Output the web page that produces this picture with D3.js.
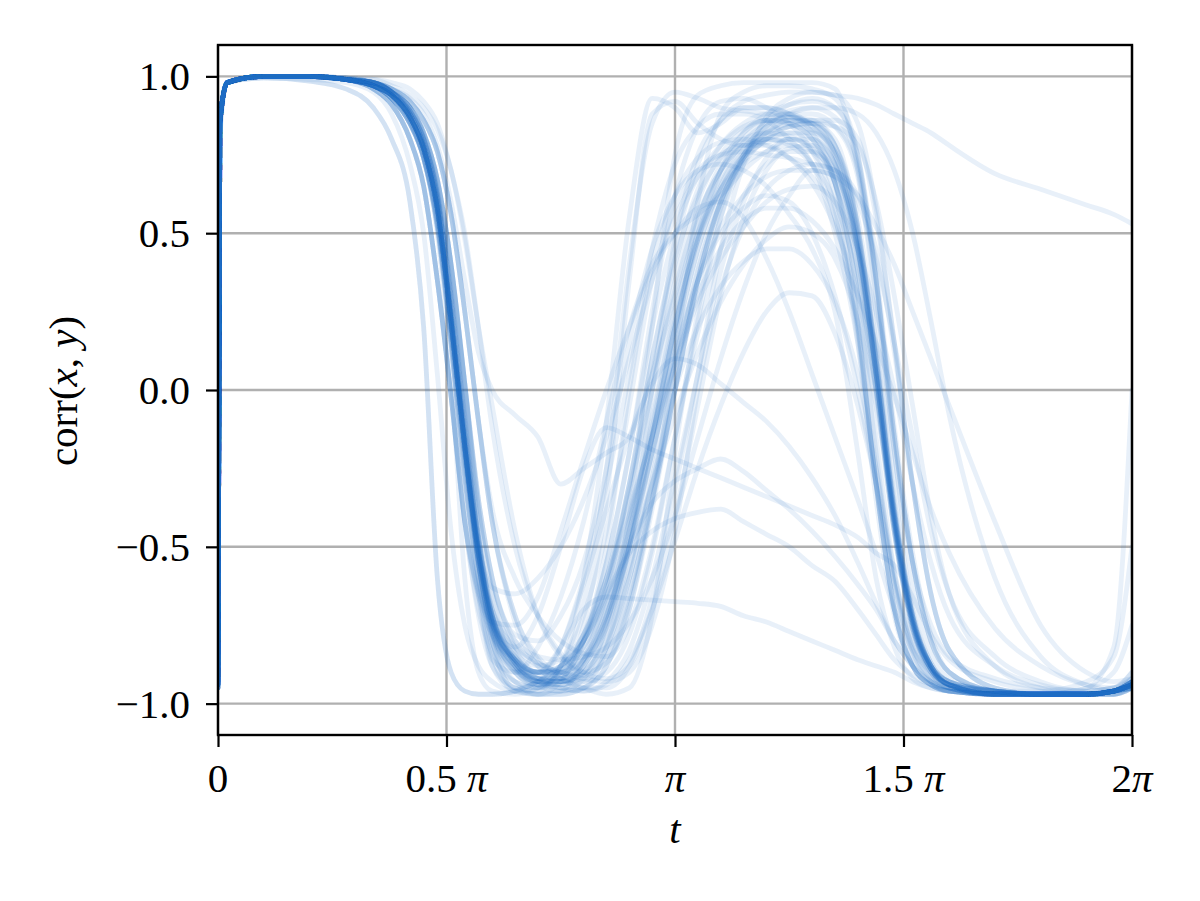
<!DOCTYPE html>
<html><head><meta charset="utf-8">
<script src="https://cdn.jsdelivr.net/npm/d3@7"></script>
<style>body{margin:0;background:#fff} svg{display:block} text{font-family:"Liberation Serif","DejaVu Serif",serif}</style>
</head><body>
<svg id="chart" width="1200" height="901"></svg>
<script>
// sample times, in units of pi
const tGrid = [0,0.004,0.02,0.1,0.2,0.28,0.34,0.38,0.42,0.45,0.48,0.51,0.54,0.57,0.6,0.65,0.7,0.75,0.8,0.85,0.9,0.95,1.0,1.05,1.1,1.15,1.2,1.25,1.3,1.35,1.4,1.44,1.48,1.52,1.56,1.6,1.7,1.8,1.9,1.96,2.0];

const s01 = [-0.94,0.85,0.98,1.0,1.0,0.99, 0.97,0.94,0.87,0.77,0.58,0.22,-0.18,-0.52,-0.72,-0.86,-0.92,-0.93, -0.9,-0.78,-0.5,-0.15,0.2,0.48,0.66,0.77,0.84,0.87, 0.86,0.78,0.5,0.05,-0.42,-0.74,-0.88,-0.93,-0.96,-0.97,-0.97,-0.96,-0.94];
const s02 = [-0.95,0.85,0.98,1.0,1.0,0.99, 0.97,0.93,0.85,0.74,0.52,0.15,-0.28,-0.6,-0.8,-0.93,-0.97,-0.96, -0.86,-0.65,-0.3,0.1,0.42,0.62,0.74,0.8,0.82,0.81, 0.76,0.62,0.2,-0.3,-0.7,-0.88,-0.94,-0.96,-0.97,-0.97,-0.97,-0.96,-0.95];
const s03 = [-0.93,0.85,0.98,1.0,1.0,0.99, 0.98,0.95,0.9,0.82,0.67,0.4,0.02,-0.35,-0.6,-0.8,-0.87,-0.9, -0.91,-0.85,-0.65,-0.35,0.0,0.33,0.58,0.74,0.84,0.89, 0.9,0.87,0.72,0.35,-0.15,-0.55,-0.8,-0.9,-0.96,-0.97,-0.97,-0.96,-0.93];
const s04 = [-0.94,0.85,0.98,1.0,1.0,0.99, 0.96,0.91,0.8,0.65,0.35,-0.02,-0.42,-0.7,-0.84,-0.93,-0.95,-0.92, -0.8,-0.5,0.0,0.4,0.62,0.74,0.79,0.8,0.78,0.74, 0.68,0.55,0.2,-0.3,-0.7,-0.88,-0.94,-0.96,-0.97,-0.97,-0.97,-0.96,-0.94];
const s05 = [-0.95,0.85,0.98,1.0,1.0,0.995, 0.98,0.96,0.92,0.86,0.76,0.56,0.25,-0.1,-0.42,-0.72,-0.85,-0.91, -0.93,-0.9,-0.78,-0.52,-0.15,0.22,0.55,0.75,0.86,0.91, 0.93,0.9,0.74,0.36,-0.15,-0.55,-0.8,-0.9,-0.96,-0.97,-0.97,-0.97,-0.95];
const s06 = [-0.93,0.85,0.98,1.0,1.0,0.99, 0.97,0.94,0.87,0.77,0.58,0.22,-0.18,-0.52,-0.72,-0.84,-0.88,-0.86, -0.78,-0.6,-0.32,0.0,0.32,0.56,0.7,0.78,0.82,0.84, 0.83,0.76,0.48,0.05,-0.42,-0.74,-0.88,-0.93,-0.96,-0.97,-0.97,-0.96,-0.93];
const s07 = [-0.95,0.84,0.98,0.995,0.99,0.98, 0.95,0.88,0.72,0.5,0.05,-0.45,-0.75,-0.88,-0.93,-0.96,-0.95,-0.9, -0.78,-0.55,-0.2,0.2,0.5,0.68,0.78,0.84,0.86,0.85, 0.8,0.66,0.3,-0.2,-0.62,-0.85,-0.93,-0.96,-0.97,-0.97,-0.97,-0.96,-0.95];
const s08 = [-0.94,0.84,0.98,0.995,0.985,0.96, 0.9,0.8,0.6,0.2,-0.6,-0.9,-0.96,-0.97,-0.97,-0.96,-0.93,-0.88, -0.8,-0.66,-0.42,-0.12,0.22,0.48,0.64,0.74,0.79,0.8, 0.77,0.66,0.38,-0.02,-0.46,-0.76,-0.9,-0.95,-0.97,-0.97,-0.97,-0.96,-0.94];
const s09 = [-0.94,0.85,0.98,1.0,1.0,0.99, 0.96,0.91,0.8,0.65,0.35,-0.02,-0.42,-0.66,-0.78,-0.86,-0.9,-0.9, -0.86,-0.76,-0.56,-0.3,0.0,0.2,0.33,0.41,0.45,0.45, 0.4,0.28,0.05,-0.25,-0.58,-0.8,-0.91,-0.95,-0.97,-0.97,-0.97,-0.96,-0.94];
const s10 = [-0.93,0.85,0.98,1.0,1.0,0.99, 0.97,0.94,0.87,0.77,0.58,0.22,-0.18,-0.52,-0.75,-0.88,-0.93,-0.95, -0.96,-0.94,-0.86,-0.7,-0.48,-0.25,-0.05,0.12,0.25,0.31, 0.3,0.18,-0.05,-0.3,-0.6,-0.8,-0.9,-0.94,-0.97,-0.97,-0.97,-0.96,-0.93];
const s11 = [-0.93,0.85,0.98,1.0,1.0,0.99, 0.98,0.95,0.9,0.82,0.67,0.4,0.02,-0.35,-0.6,-0.82,-0.9,-0.88, -0.8,-0.64,-0.4,-0.14,0.12,0.35,0.5,0.58,0.62,0.6, 0.5,0.3,0.0,-0.3,-0.62,-0.82,-0.92,-0.95,-0.97,-0.97,-0.97,-0.96,-0.93];
const s12 = [-0.94,0.85,0.98,1.0,1.0,0.99, 0.97,0.93,0.85,0.74,0.52,0.15,-0.28,-0.6,-0.82,-0.95,-0.96,-0.88, -0.68,-0.25,0.4,0.85,0.95,0.93,0.9,0.89,0.88,0.87, 0.85,0.78,0.55,0.15,-0.35,-0.72,-0.88,-0.94,-0.97,-0.97,-0.97,-0.96,-0.94];
const s13 = [-0.94,0.85,0.98,1.0,1.0,0.99, 0.97,0.94,0.87,0.77,0.58,0.22,-0.18,-0.55,-0.8,-0.93,-0.95,-0.88, -0.6,-0.1,0.55,0.93,0.9,0.82,0.85,0.9,0.9,0.88, 0.84,0.75,0.5,0.12,-0.38,-0.72,-0.88,-0.94,-0.97,-0.97,-0.97,-0.96,-0.94];
const s14 = [0.5,0.9,0.98,1.0,1.0,0.99, 0.98,0.95,0.88,0.78,0.6,0.28,-0.12,-0.48,-0.7,-0.85,-0.9,-0.9, -0.82,-0.62,-0.3,0.1,0.45,0.72,0.86,0.92,0.94,0.95, 0.95,0.94,0.93,0.91,0.88,0.85,0.82,0.78,0.69,0.64,0.59,0.56,0.53];
const s15 = [-0.94,0.85,0.98,1.0,1.0,0.99, 0.97,0.94,0.87,0.77,0.58,0.22,-0.18,-0.55,-0.78,-0.9,-0.9,-0.82, -0.7,-0.66,-0.665,-0.67,-0.675,-0.68, -0.69,-0.72,-0.74,-0.77, -0.8,-0.83,-0.86,-0.88,-0.9,-0.93,-0.95,-0.96,-0.97,-0.97,-0.97,-0.96,-0.94];
const s16 = [-0.94,0.85,0.98,1.0,1.0,0.99, 0.97,0.94,0.87,0.77,0.58,0.22,-0.18,-0.55,-0.78,-0.9,-0.94,-0.9, -0.8,-0.65,-0.52,-0.45,-0.41,-0.39,-0.38,-0.42,-0.46,-0.5, -0.56,-0.61,-0.7,-0.78,-0.86,-0.91,-0.94,-0.95,-0.97,-0.97,-0.97,-0.96,-0.94];
const s17 = [-0.93,0.85,0.98,1.0,1.0,0.99, 0.98,0.95,0.88,0.78,0.6,0.25,-0.15,-0.52,-0.75,-0.88,-0.93,-0.92, -0.84,-0.68,-0.5,-0.36,-0.29,-0.25,-0.22,-0.26,-0.32,-0.38, -0.45,-0.53,-0.62,-0.7,-0.8,-0.88,-0.93,-0.95,-0.97,-0.97,-0.97,-0.96,-0.93];
const s18 = [-0.93,0.85,0.98,1.0,1.0,0.99, 0.97,0.94,0.87,0.77,0.58,0.22,-0.18,-0.55,-0.75,-0.82,-0.72,-0.5, -0.25,-0.12,-0.15,-0.19,-0.22,-0.25,-0.28,-0.31,-0.34,-0.37, -0.4,-0.43,-0.47,-0.52,-0.56,-0.66,-0.78,-0.86,-0.93,-0.96,-0.97,-0.96,-0.93];
const s19 = [-0.93,0.85,0.98,1.0,1.0,0.99, 0.98,0.96,0.93,0.88,0.78,0.6,0.35,0.12,0.0,-0.08,-0.15,-0.3, -0.25,-0.2,-0.15,0.05,0.3,0.55,0.7,0.78,0.8,0.78, 0.72,0.6,0.35,0.0,-0.45,-0.75,-0.89,-0.94,-0.97,-0.97,-0.97,-0.96,-0.93];
const s20 = [-0.95,0.85,0.98,1.0,1.0,0.99, 0.98,0.95,0.89,0.8,0.63,0.3,-0.1,-0.47,-0.72,-0.87,-0.93,-0.95, -0.93,-0.85,-0.65,-0.35,0.0,0.35,0.6,0.75,0.84,0.88, 0.9,0.9,0.88,0.82,0.7,0.5,0.22,-0.08,-0.6,-0.85,-0.94,-0.96,-0.95];
const s21 = [-0.93,0.85,0.98,1.0,1.0,0.99, 0.98,0.95,0.88,0.78,0.6,0.26,-0.14,-0.5,-0.73,-0.86,-0.92,-0.93, -0.9,-0.8,-0.6,-0.3,0.05,0.38,0.6,0.73,0.8,0.84, 0.85,0.84,0.78,0.6,0.3,-0.05,-0.4,-0.65,-0.88,-0.95,-0.97,-0.96,-0.93];
const s22 = [-0.9,0.85,0.98,1.0,1.0,0.99, 0.97,0.94,0.87,0.76,0.56,0.2,-0.2,-0.55,-0.77,-0.9,-0.94,-0.94, -0.88,-0.72,-0.48,-0.2,0.08,0.3,0.45,0.54,0.58,0.58, 0.54,0.45,0.3,0.15,-0.02,-0.2,-0.38,-0.52,-0.76,-0.88,-0.94,-0.95,-0.9];
const s23 = [0.0,0.8,0.98,1.0,1.0,0.995, 0.98,0.96,0.92,0.86,0.76,0.56,0.25,-0.1,-0.42,-0.74,-0.88,-0.93, -0.92,-0.82,-0.6,-0.28,0.08,0.4,0.62,0.75,0.82,0.86, 0.85,0.78,0.52,0.1,-0.4,-0.73,-0.88,-0.94,-0.96,-0.97,-0.95,-0.82,0.0];
const s24 = [-0.5,0.82,0.98,1.0,1.0,0.99, 0.97,0.94,0.86,0.74,0.54,0.18,-0.22,-0.56,-0.77,-0.89,-0.93,-0.93, -0.87,-0.72,-0.48,-0.15,0.2,0.5,0.68,0.79,0.85,0.87, 0.85,0.75,0.45,0.05,-0.43,-0.75,-0.89,-0.94,-0.96,-0.96,-0.93,-0.85,-0.5];
const s25 = [-0.95,0.85,0.98,1.0,1.0,0.99, 0.98,0.95,0.89,0.8,0.62,0.28,-0.12,-0.5,-0.75,-0.9,-0.95,-0.96, -0.92,-0.75,-0.4,0.2,0.75,0.94,0.97,0.98,0.98,0.98, 0.98,0.96,0.7,0.25,-0.3,-0.7,-0.87,-0.93,-0.96,-0.97,-0.97,-0.97,-0.95];
const s26 = [-0.94,0.85,0.98,1.0,1.0,0.99, 0.98,0.96,0.9,0.81,0.64,0.32,-0.08,-0.46,-0.72,-0.87,-0.94,-0.96, -0.95,-0.88,-0.7,-0.35,0.1,0.6,0.88,0.95,0.97,0.97, 0.96,0.93,0.75,0.35,-0.2,-0.62,-0.84,-0.92,-0.96,-0.97,-0.97,-0.97,-0.94];
const s27 = [-0.95,0.85,0.98,0.995,0.985,0.96, 0.9,0.8,0.6,0.2,-0.6,-0.9,-0.96,-0.97,-0.97,-0.96,-0.93,-0.88, -0.8,-0.62,-0.35,0.0,0.35,0.6,0.75,0.83,0.86,0.85, 0.8,0.66,0.38,0.0,-0.45,-0.76,-0.9,-0.95,-0.97,-0.97,-0.97,-0.96,-0.95];
const s28 = [-0.93,0.85,0.98,1.0,1.0,0.99, 0.99,0.98,0.96,0.92,0.85,0.7,0.5,0.2,-0.12,-0.5,-0.72,-0.84, -0.9,-0.92,-0.88,-0.7,-0.4,-0.05,0.3,0.55,0.7,0.77, 0.78,0.7,0.45,0.08,-0.4,-0.72,-0.88,-0.94,-0.96,-0.97,-0.97,-0.96,-0.93];
const s29 = [-0.95,0.85,0.98,1.0,1.0,0.99, 0.96,0.91,0.8,0.65,0.35,-0.02,-0.42,-0.72,-0.88,-0.95,-0.97,-0.97, -0.95,-0.88,-0.68,-0.36,0.0,0.35,0.6,0.74,0.82,0.86, 0.86,0.84,0.7,0.35,-0.15,-0.55,-0.8,-0.9,-0.96,-0.97,-0.97,-0.97,-0.95];
const s30 = [-0.92,0.85,0.98,1.0,1.0,0.99, 0.97,0.93,0.85,0.74,0.53,0.18,-0.22,-0.5,-0.63,-0.65,-0.6,-0.5, -0.35,-0.15,0.1,0.35,0.55,0.68,0.75,0.78,0.78,0.74, 0.66,0.52,0.3,0.0,-0.42,-0.74,-0.89,-0.94,-0.97,-0.97,-0.97,-0.96,-0.92];
const s31 = [-0.94,0.85,0.98,1.0,1.0,0.99, 0.98,0.95,0.89,0.8,0.62,0.28,-0.12,-0.48,-0.7,-0.8,-0.85,-0.86, -0.85,-0.82,-0.74,-0.6,-0.4,-0.15,0.1,0.32,0.5,0.62, 0.7,0.68,0.45,0.1,-0.38,-0.72,-0.88,-0.94,-0.97,-0.97,-0.97,-0.96,-0.94];
const s32 = [-0.94,0.85,0.98,1.0,1.0,0.995, 0.98,0.96,0.92,0.86,0.76,0.56,0.25,-0.1,-0.38,-0.6,-0.72,-0.8, -0.84,-0.85,-0.75,-0.5,-0.15,0.18,0.45,0.62,0.72,0.76, 0.76,0.7,0.45,0.05,-0.42,-0.74,-0.88,-0.93,-0.96,-0.97,-0.97,-0.96,-0.94];
const s33 = [-0.95,0.85,0.98,1.0,1.0,0.99, 0.97,0.94,0.87,0.77,0.58,0.22,-0.18,-0.52,-0.74,-0.86,-0.9,-0.89, -0.82,-0.68,-0.45,-0.15,0.18,0.48,0.7,0.82,0.88,0.91, 0.92,0.9,0.75,0.38,-0.12,-0.52,-0.78,-0.9,-0.96,-0.97,-0.97,-0.97,-0.95];
const s34 = [-0.93,0.85,0.98,1.0,1.0,0.99, 0.97,0.94,0.86,0.75,0.55,0.2,-0.2,-0.55,-0.77,-0.89,-0.93,-0.93, -0.88,-0.74,-0.5,-0.2,0.15,0.45,0.65,0.76,0.8,0.79, 0.72,0.5,0.15,-0.25,-0.62,-0.84,-0.93,-0.96,-0.97,-0.97,-0.97,-0.96,-0.93];
const s35 = [-0.94,0.85,0.98,1.0,1.0,0.99, 0.98,0.95,0.88,0.78,0.6,0.25,-0.15,-0.5,-0.72,-0.85,-0.9,-0.9, -0.85,-0.72,-0.52,-0.3,-0.08,0.12,0.28,0.4,0.48,0.52, 0.5,0.42,0.22,-0.05,-0.4,-0.7,-0.87,-0.93,-0.97,-0.97,-0.97,-0.96,-0.94];
const s36 = [-0.9,0.85,0.98,1.0,1.0,0.99, 0.97,0.94,0.87,0.77,0.58,0.23,-0.17,-0.52,-0.74,-0.86,-0.9,-0.88, -0.78,-0.6,-0.38,-0.15,0.08,0.28,0.42,0.52,0.6,0.64, 0.65,0.6,0.45,0.25,0.0,-0.3,-0.55,-0.72,-0.88,-0.94,-0.96,-0.95,-0.9];
const s37 = [-0.75,0.84,0.98,1.0,1.0,0.99, 0.98,0.95,0.88,0.78,0.6,0.26,-0.14,-0.5,-0.73,-0.87,-0.92,-0.92, -0.86,-0.7,-0.42,-0.08,0.26,0.54,0.72,0.82,0.86,0.86, 0.82,0.72,0.44,0.05,-0.44,-0.75,-0.89,-0.94,-0.96,-0.97,-0.95,-0.9,-0.75];
const s38 = [-0.94,0.85,0.98,1.0,1.0,0.99, 0.97,0.93,0.85,0.74,0.54,0.18,-0.25,-0.62,-0.85,-0.96,-0.97,-0.93, -0.75,-0.35,0.35,0.88,0.92,0.85,0.8,0.78,0.8,0.82, 0.8,0.72,0.48,0.1,-0.4,-0.73,-0.88,-0.94,-0.97,-0.97,-0.97,-0.96,-0.94];
const s39 = [-0.95,0.85,0.98,1.0,1.0,0.99, 0.98,0.95,0.89,0.8,0.62,0.28,-0.12,-0.48,-0.72,-0.86,-0.92,-0.95, -0.96,-0.93,-0.83,-0.6,-0.28,0.05,0.38,0.6,0.74,0.8, 0.8,0.72,0.46,0.05,-0.43,-0.75,-0.89,-0.94,-0.97,-0.97,-0.97,-0.96,-0.95];
const s40 = [-0.94,0.85,0.98,1.0,1.0,0.99, 0.97,0.94,0.87,0.77,0.57,0.22,-0.18,-0.54,-0.76,-0.88,-0.92,-0.9, -0.8,-0.6,-0.3,0.05,0.4,0.64,0.78,0.85,0.88,0.88, 0.84,0.74,0.46,0.06,-0.42,-0.74,-0.89,-0.94,-0.97,-0.97,-0.97,-0.96,-0.94];
const s41 = [-0.94,0.86,0.98,1.0,1.0,0.995, 0.99,0.97,0.94,0.9,0.83,0.7,0.48,0.2,-0.05,-0.45,-0.72,-0.85, -0.9,-0.87,-0.7,-0.38,0.0,0.35,0.6,0.74,0.82,0.85, 0.86,0.86,0.8,0.55,0.15,-0.3,-0.65,-0.83,-0.95,-0.97,-0.97,-0.96,-0.94];
const s42 = [-0.95,0.85,0.98,1.0,1.0,0.99, 0.97,0.93,0.85,0.74,0.52,0.15,-0.28,-0.65,-0.88,-0.96,-0.97,-0.97, -0.95,-0.82,-0.5,0.0,0.48,0.75,0.86,0.9,0.9,0.88, 0.82,0.66,0.22,-0.3,-0.7,-0.88,-0.94,-0.96,-0.97,-0.97,-0.97,-0.96,-0.95];
const s43 = [-0.93,0.85,0.98,1.0,1.0,0.99, 0.98,0.95,0.9,0.82,0.67,0.4,0.02,-0.35,-0.6,-0.78,-0.8,-0.72, -0.55,-0.25,0.15,0.45,0.62,0.7,0.72,0.7,0.65,0.56, 0.45,0.25,-0.2,-0.6,-0.82,-0.92,-0.95,-0.96,-0.97,-0.97,-0.97,-0.96,-0.93];
const s44 = [-0.94,0.85,0.98,1.0,1.0,0.99, 0.96,0.91,0.8,0.65,0.35,-0.02,-0.42,-0.64,-0.74,-0.82,-0.87,-0.9, -0.92,-0.93,-0.9,-0.75,-0.45,0.0,0.32,0.52,0.64,0.7, 0.72,0.7,0.62,0.45,0.12,-0.3,-0.65,-0.83,-0.95,-0.97,-0.97,-0.96,-0.94];
const s45 = [-0.92,0.85,0.98,1.0,1.0,0.99, 0.97,0.94,0.87,0.77,0.58,0.22,-0.18,-0.52,-0.72,-0.87,-0.93,-0.94, -0.9,-0.76,-0.5,-0.15,0.2,0.5,0.7,0.8,0.86,0.88, 0.88,0.84,0.68,0.3,-0.2,-0.55,-0.75,-0.85,-0.92,-0.95,-0.96,-0.95,-0.92];
const s46 = [-0.94,0.85,0.98,1.0,1.0,0.99, 0.98,0.95,0.9,0.82,0.67,0.4,0.02,-0.38,-0.64,-0.84,-0.91,-0.92, -0.86,-0.72,-0.45,-0.1,0.25,0.5,0.64,0.72,0.76,0.78, 0.76,0.68,0.42,0.02,-0.45,-0.76,-0.89,-0.94,-0.97,-0.97,-0.97,-0.96,-0.94];
const s47 = [-0.94,0.85,0.98,1.0,1.0,0.99, 0.97,0.93,0.85,0.74,0.52,0.15,-0.28,-0.62,-0.86,-0.9,-0.82,-0.66, -0.42,-0.1,0.2,0.4,0.5,0.56,0.62,0.7,0.76,0.8, 0.78,0.66,0.3,-0.15,-0.58,-0.83,-0.92,-0.95,-0.97,-0.97,-0.97,-0.96,-0.94];
const s48 = [-0.95,0.85,0.98,1.0,1.0,0.995, 0.98,0.96,0.92,0.86,0.76,0.56,0.25,-0.1,-0.42,-0.72,-0.86,-0.92, -0.95,-0.95,-0.88,-0.66,-0.32,0.05,0.45,0.72,0.87,0.93, 0.95,0.94,0.85,0.58,0.15,-0.3,-0.65,-0.83,-0.95,-0.97,-0.97,-0.97,-0.95];
const s49 = [-0.94,0.85,0.98,1.0,1.0,0.99, 0.96,0.91,0.8,0.65,0.35,-0.02,-0.42,-0.65,-0.74,-0.75,-0.66,-0.45, -0.22,0.0,0.2,0.38,0.5,0.58,0.6,0.55,0.42,0.25, 0.05,-0.15,-0.35,-0.52,-0.7,-0.83,-0.9,-0.94,-0.97,-0.97,-0.97,-0.96,-0.94];
const s50 = [-0.94,0.85,0.98,1.0,1.0,0.99, 0.97,0.94,0.87,0.77,0.58,0.22,-0.18,-0.52,-0.74,-0.86,-0.9,-0.82, -0.62,-0.38,-0.15,0.02,0.1,0.08,0.02,-0.04,-0.1,-0.18, -0.28,-0.4,-0.55,-0.68,-0.8,-0.88,-0.93,-0.95,-0.97,-0.97,-0.97,-0.96,-0.94];
const s51 = [-0.94,0.85,0.98,1.0,1.0,0.99, 0.98,0.95,0.9,0.82,0.67,0.4,0.02,-0.38,-0.65,-0.88,-0.94,-0.92, -0.8,-0.55,-0.2,0.25,0.62,0.84,0.92,0.93,0.9,0.85, 0.76,0.58,0.15,-0.35,-0.72,-0.88,-0.94,-0.96,-0.97,-0.97,-0.97,-0.96,-0.94];
const s52 = [-0.95,0.85,0.98,1.0,1.0,0.99, 0.97,0.94,0.87,0.77,0.58,0.22,-0.18,-0.52,-0.74,-0.88,-0.93,-0.94, -0.91,-0.82,-0.58,-0.22,0.15,0.45,0.64,0.75,0.8,0.82, 0.82,0.76,0.52,0.1,-0.38,-0.72,-0.88,-0.93,-0.96,-0.97,-0.97,-0.96,-0.95];
const s53 = [-0.95,0.85,0.98,1.0,1.0,0.99, 0.97,0.93,0.85,0.74,0.5,0.05,-0.6,-0.9,-0.96,-0.97,-0.95,-0.88, -0.72,-0.45,-0.05,0.35,0.58,0.7,0.75,0.76,0.75,0.74, 0.72,0.7,0.6,0.42,0.15,-0.15,-0.45,-0.65,-0.85,-0.93,-0.96,-0.95,-0.93];
const s54 = [-0.94,0.85,0.98,1.0,1.0,0.99, 0.98,0.95,0.89,0.8,0.62,0.28,-0.12,-0.48,-0.7,-0.82,-0.88,-0.92, -0.95,-0.97,-0.95,-0.72,-0.2,0.25,0.55,0.72,0.8,0.84, 0.85,0.8,0.52,0.08,-0.4,-0.73,-0.88,-0.94,-0.96,-0.97,-0.97,-0.96,-0.94];
const s55 = [-0.94,0.85,0.98,1.0,1.0,0.99, 0.97,0.94,0.87,0.77,0.58,0.22,-0.18,-0.52,-0.74,-0.87,-0.92,-0.93, -0.88,-0.74,-0.5,-0.2,0.1,0.35,0.52,0.62,0.68,0.7, 0.7,0.68,0.62,0.52,0.4,0.25,0.1,-0.05,-0.42,-0.75,-0.9,-0.93,-0.92];
const s56 = [-0.93,0.85,0.98,1.0,1.0,0.99, 0.98,0.95,0.9,0.82,0.67,0.4,0.02,-0.45,-0.8,-0.95,-0.93,-0.82, -0.6,-0.3,0.05,0.45,0.72,0.84,0.88,0.88,0.86,0.8, 0.72,0.55,0.18,-0.3,-0.7,-0.88,-0.94,-0.96,-0.97,-0.97,-0.97,-0.96,-0.93];

const allSeries = [s01,s02,s03,s04,s05,s06,s07,s08,s09,s10,s11,s12,s13,s14,s15,s16,s17,s18,s19,s20,
                   s21,s22,s23,s24,s25,s26,s27,s28,s29,s30,s31,s32,s33,s34,s35,s36,s37,s38,s39,s40,
                   s41,s42,s43,s44,s45,s46,s47,s48,s49,s50,s51,s52,s53,s54,s55,s56];

const xTickValues = [0, 0.5, 1, 1.5, 2];
const xTickLabels = [["0",""],["0.5 ","π"],["","π"],["1.5 ","π"],["2","π"]];
const yTickValues = [-1, -0.5, 0, 0.5, 1];
const yTickLabels = ["−1.0","−0.5","0.0","0.5","1.0"];

const L = 218, R = 1132, T = 45, B = 735;
const svg = d3.select("#chart");
svg.append("rect").attr("width",1200).attr("height",901).attr("fill","#fff");

const x = d3.scaleLinear().domain([0, 2]).range([L, R]);
const y = d3.scaleLinear().domain([-1.1, 1.1]).range([B, T]);

// grid
const grid = svg.append("g");
grid.selectAll("line.gx").data(xTickValues).join("line")
  .attr("x1", d => x(d)).attr("x2", d => x(d)).attr("y1", T).attr("y2", B)
  .attr("stroke", "#b0b0b0").attr("stroke-width", 2.4);
grid.selectAll("line.gy").data(yTickValues).join("line")
  .attr("y1", d => y(d)).attr("y2", d => y(d)).attr("x1", L).attr("x2", R)
  .attr("stroke", "#b0b0b0").attr("stroke-width", 2.4);

// series lines
svg.append("defs").append("clipPath").attr("id","clip")
  .append("rect").attr("x",L).attr("y",T).attr("width",R-L).attr("height",B-T);
const line = d3.line().x((d,i) => x(tGrid[i])).y(d => y(d)).curve(d3.curveMonotoneX);
svg.append("g").attr("clip-path","url(#clip)")
  .selectAll("path").data(allSeries).join("path")
  .attr("d", line)
  .attr("fill","none")
  .attr("stroke","#1f6fc8")
  .attr("stroke-opacity",0.1)
  .attr("stroke-width",4.8)
  .attr("stroke-linejoin","round")
  .attr("stroke-linecap","round");

// axes ticks
const xAxis = svg.append("g").attr("transform",`translate(0,${B})`)
  .call(d3.axisBottom(x).tickValues(xTickValues).tickSize(12).tickSizeOuter(0).tickFormat(""));
const yAxis = svg.append("g").attr("transform",`translate(${L},0)`)
  .call(d3.axisLeft(y).tickValues(yTickValues).tickSize(12).tickSizeOuter(0).tickFormat(""));
[xAxis, yAxis].forEach(g => {
  g.select(".domain").remove();
  g.selectAll(".tick line").attr("stroke","#000").attr("stroke-width",2.2);
});

// spines
svg.append("rect").attr("x",L).attr("y",T).attr("width",R-L).attr("height",B-T)
  .attr("fill","none").attr("stroke","#000").attr("stroke-width",2.4);

// tick labels
const fs = 41;
xTickValues.forEach((v,i) => {
  const t = svg.append("text").attr("x", x(v)).attr("y", 792)
    .attr("text-anchor","middle").attr("font-size", fs).attr("fill","#000");
  t.append("tspan").text(xTickLabels[i][0]);
  if (xTickLabels[i][1]) t.append("tspan").attr("font-style","italic").text(xTickLabels[i][1]);
});
yTickValues.forEach((v,i) => {
  svg.append("text").attr("x", 190).attr("y", y(v) + 14)
    .attr("text-anchor","end").attr("font-size", fs).attr("fill","#000")
    .text(yTickLabels[i]);
});

// axis titles
svg.append("text").attr("x", (L+R)/2).attr("y", 843).attr("text-anchor","middle")
  .attr("font-size", fs).attr("font-style","italic").text("t");
const yl = svg.append("text").attr("transform","translate(77,391) rotate(-90)")
  .attr("text-anchor","middle").attr("font-size", fs);
yl.append("tspan").text("corr(");
yl.append("tspan").attr("font-style","italic").text("x");
yl.append("tspan").text(", ");
yl.append("tspan").attr("font-style","italic").text("y");
yl.append("tspan").text(")");
</script>
</body></html>
